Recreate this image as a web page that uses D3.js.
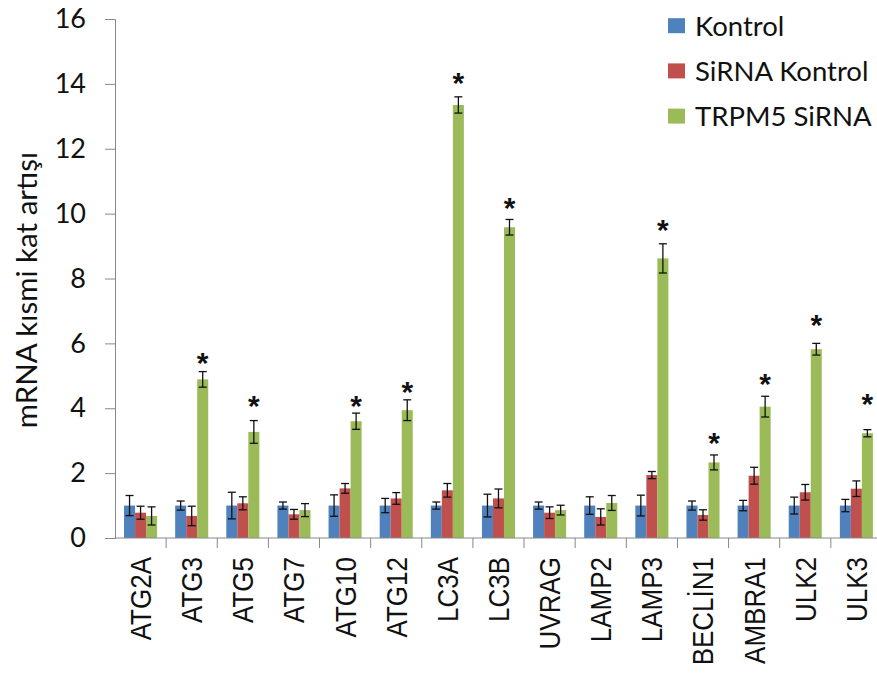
<!DOCTYPE html>
<html>
<head>
<meta charset="utf-8">
<script src="https://cdn.jsdelivr.net/npm/d3@7"></script>
<style>
  body { margin: 0; background: #fff; }
  svg { display: block; }
</style>
</head>
<body>
<div id="container"></div>
<script>
const genes = ["ATG2A", "ATG3", "ATG5", "ATG7", "ATG10", "ATG12", "LC3A", "LC3B",
    "UVRAG", "LAMP2", "LAMP3", "BECLİN1", "AMBRA1", "ULK2", "ULK3"];
const seriesNames = ["Kontrol", "SiRNA Kontrol", "TRPM5 SiRNA"];

const kontrol = [1.0, 1.0, 1.0, 1.0, 1.0, 1.0, 1.0, 1.0, 1.0, 1.0, 1.0, 1.0, 1.0, 1.0, 1.0];
const kontrolErr = [0.31, 0.14, 0.41, 0.11, 0.33, 0.22, 0.11, 0.35, 0.11, 0.27, 0.32, 0.14, 0.16, 0.26, 0.19];
const sirnaKontrol = [0.78, 0.68, 1.07, 0.73, 1.53, 1.22, 1.47, 1.22, 0.78, 0.65, 1.94, 0.71, 1.92, 1.41, 1.52];
const sirnaKontrolErr = [0.2, 0.3, 0.2, 0.15, 0.15, 0.18, 0.21, 0.29, 0.18, 0.25, 0.11, 0.16, 0.26, 0.24, 0.24];
const trpm5 = [0.68, 4.89, 3.27, 0.86, 3.6, 3.94, 13.35, 9.58, 0.86, 1.08, 8.62, 2.33, 4.05, 5.82, 3.23];
const trpm5Err = [0.28, 0.24, 0.35, 0.2, 0.25, 0.32, 0.25, 0.24, 0.15, 0.23, 0.45, 0.23, 0.32, 0.18, 0.11];
// level of the significance star, in axis units (null = no star)
const starLevels = [null, 5.61, 4.28, null, 4.27, 4.72, 14.24, 10.4, null, null, 9.72, 3.14, 4.95, 6.77, 4.36];
const yTicks = [0, 2, 4, 6, 8, 10, 12, 14, 16];

const colors = ["#4F81BD", "#C0504D", "#9BBB59"];
const values = [kontrol, sirnaKontrol, trpm5];
const errors = [kontrolErr, sirnaKontrolErr, trpm5Err];

const width = 877, height = 675;
const svg = d3.select("#container").append("svg")
    .attr("width", width)
    .attr("height", height);

const x = d3.scaleBand().domain(genes).range([115, 115 + genes.length * 51.13]).padding(0);
const xs = d3.scaleBand().domain(d3.range(3)).range([0, x.bandwidth()]).paddingInner(0).paddingOuter(0.82);
const y = d3.scaleLinear().domain([0, 16]).range([538, 19]);

const rows = [];
genes.forEach((g, i) => {
    for (let s = 0; s < 3; s++) {
        rows.push({gene: g, s: s, v: values[s][i], e: errors[s][i]});
    }
});

// bars
svg.append("g").selectAll("rect")
    .data(rows)
    .join("rect")
    .attr("x", d => x(d.gene) + xs(d.s))
    .attr("y", d => y(d.v))
    .attr("width", xs.bandwidth())
    .attr("height", d => y(0) - y(d.v))
    .attr("fill", d => colors[d.s]);

// error bars
const eb = svg.append("g").attr("stroke", "#111").attr("stroke-width", 1.3);
rows.forEach(d => {
    const cx = x(d.gene) + xs(d.s) + xs.bandwidth() / 2;
    eb.append("line").attr("x1", cx).attr("x2", cx).attr("y1", y(d.v + d.e)).attr("y2", y(d.v - d.e));
    eb.append("line").attr("x1", cx - 4).attr("x2", cx + 4).attr("y1", y(d.v + d.e)).attr("y2", y(d.v + d.e));
    eb.append("line").attr("x1", cx - 4).attr("x2", cx + 4).attr("y1", y(d.v - d.e)).attr("y2", y(d.v - d.e));
});

// stars
svg.append("g").selectAll("text")
    .data(genes.map((g, i) => ({gene: g, lvl: starLevels[i]})).filter(d => d.lvl !== null))
    .join("text")
    .attr("x", d => x(d.gene) + xs(2) + xs.bandwidth() / 2)
    .attr("y", d => y(d.lvl) + 17)
    .attr("text-anchor", "middle")
    .style("font-family", "Liberation Sans, Arial, sans-serif")
    .style("font-size", "30px")
    .style("font-weight", "bold")
    .attr("fill", "#111")
    .text("*");

// y axis
const yAxis = svg.append("g")
    .attr("transform", "translate(115,0)")
    .call(d3.axisLeft(y).tickValues(yTicks).tickSize(10).tickPadding(19));
yAxis.select(".domain").attr("stroke", "#888");
yAxis.selectAll(".tick line").attr("stroke", "#888");
yAxis.selectAll(".tick text")
    .style("font-family", "Lato, Calibri, sans-serif")
    .style("font-size", "27px")
    .attr("fill", "#111");

// x axis: baseline with ticks between categories
const xAxisG = svg.append("g").attr("stroke", "#888").attr("stroke-width", 1);
xAxisG.append("line").attr("x1", 115).attr("x2", width).attr("y1", y(0)).attr("y2", y(0));
xAxisG.selectAll("line.tk")
    .data(genes.slice(1))
    .join("line")
    .attr("class", "tk")
    .attr("x1", d => x(d)).attr("x2", d => x(d))
    .attr("y1", y(0)).attr("y2", y(0) + 10);

svg.append("g").selectAll("text")
    .data(genes)
    .join("text")
    .attr("transform", d => `translate(${x(d) + x.bandwidth() / 2},557) rotate(-90) scale(1,1.12)`)
    .attr("text-anchor", "end")
    .attr("dy", "0.36em")
    .style("font-family", "Liberation Sans, Arial, sans-serif")
    .style("font-size", "26px")
    .attr("fill", "#111")
    .text(d => d);

// y title
svg.append("text")
    .attr("transform", "translate(37,290) rotate(-90)")
    .attr("text-anchor", "middle")
    .style("font-family", "Lato, Calibri, sans-serif")
    .style("font-size", "29.5px")
    .attr("fill", "#111")
    .text("mRNA kısmi kat artışı");

// legend
const legend = svg.append("g").selectAll("g")
    .data(seriesNames)
    .join("g")
    .attr("transform", (d, i) => `translate(668,${25.7 + i * 45.2})`);
legend.append("rect")
    .attr("x", 0).attr("y", -7.5)
    .attr("width", 17).attr("height", 15)
    .attr("fill", (d, i) => colors[i]);
legend.append("text")
    .attr("x", 27)
    .attr("dy", "0.36em")
    .style("font-family", "Lato, Calibri, sans-serif")
    .style("font-size", "27.5px")
    .attr("fill", "#111")
    .text(d => d);
</script>
</body>
</html>
